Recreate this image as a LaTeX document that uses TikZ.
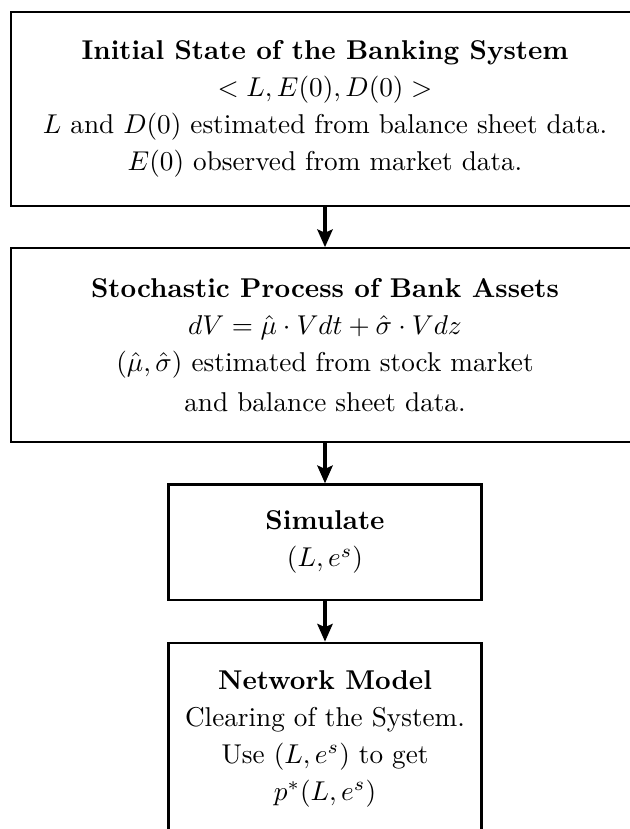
\documentclass[tikz,border=0pt]{standalone}
\usepackage{amsmath}
\usetikzlibrary{arrows.meta,positioning}

\begin{document}
\begin{tikzpicture}[x=0.3676pt,y=-0.3676pt,
  node distance=14.8pt,
  stage/.style={draw,line width=0.8pt,align=center,inner sep=0pt,
    font=\fontsize{10}{13.6}\selectfont},
  widebox/.style={stage,minimum width=230.9pt,minimum height=71.2pt},
  smallbox/.style={stage,minimum width=115.1pt,minimum height=42.6pt},
  flow/.style={-{Stealth[length=6.5pt,width=5.6pt,inset=1.2pt]},line width=1.5pt}]
  \useasboundingbox (0,0) rectangle (630,829);

  % the four stages
  \node[widebox] (init) at (325,109) {\textbf{Initial State of the Banking System}\\
    $<L,E(0),D(0)>$\\
    $L$ and $D(0)$ estimated from balance sheet data.\\
    $E(0)$ observed from market data.};

  \node[widebox,below=of init] (proc) {\textbf{Stochastic Process of Bank Assets}\\
    $dV=\hat{\mu}\cdot V dt+\hat{\sigma}\cdot V dz$\\
    $(\hat{\mu},\hat{\sigma})$ estimated from stock market\\[1pt]
    and balance sheet data.};

  \node[smallbox,below=of proc] (sim) {\textbf{Simulate}\\ $(L,e^s)$};

  \node[smallbox,minimum height=70.6pt,below=of sim] (net) {\textbf{Network Model}\\
    Clearing of the System.\\
    Use $(L,e^s)$ to get\\
    $p^*(L,e^s)$};

  % arrows between stages
  \draw[flow] (init) -- (proc);
  \draw[flow] (proc) -- (sim);
  \draw[flow] (sim) -- (net);

\end{tikzpicture}
\end{document}
